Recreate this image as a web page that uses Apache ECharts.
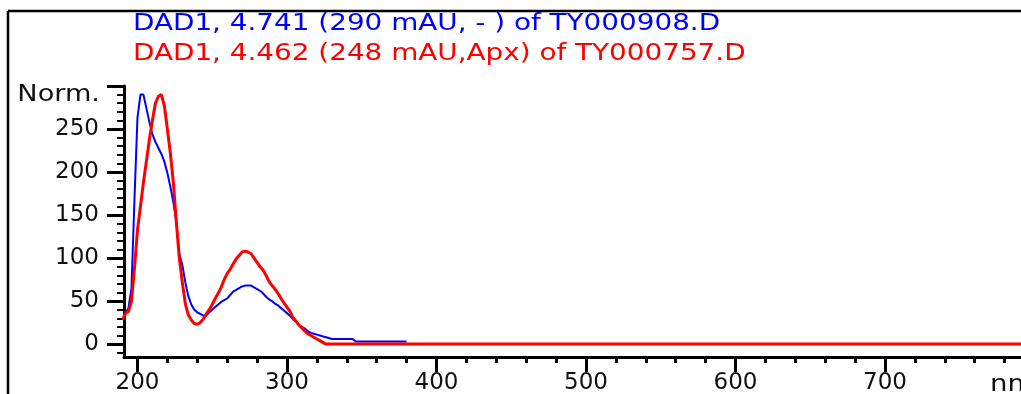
<!DOCTYPE html>
<html><head><meta charset="utf-8">
<script src="https://cdn.jsdelivr.net/npm/echarts@6/dist/echarts.min.js"></script>
<style>html,body{margin:0;padding:0;background:#fff}#c{width:1021px;height:394px}</style>
</head><body><div id="c"></div>
<script>
// ---- data ----
const titleBlue = 'DAD1, 4.741 (290 mAU, - ) of TY000908.D';
const titleRed = 'DAD1, 4.462 (248 mAU,Apx) of TY000757.D';
const yAxisName = 'Norm.';
const xAxisName = 'nm';

const xMajorTicks = [200, 300, 400, 500, 600, 700];
const xMinorTicks = [220, 240, 260, 280, 320, 340, 360, 380, 420, 440, 460, 480, 520, 540, 560, 580, 620, 640, 660, 680, 720, 740, 760, 780];
const yMajorTicks = [0, 50, 100, 150, 200, 250, 300];
const yLabelValues = [0, 50, 100, 150, 200, 250];
const yMinorTicks = [-10, 10, 20, 30, 40, 60, 70, 80, 90, 110, 120, 130, 140, 160, 170, 180, 190, 210, 220, 230, 240, 260, 270, 280, 290];

const blueNm = [190,192,194,196,198,200,202,204,206,208,210,212,214,216,218,220,222,224,226,228,230,232,234,236,238,240,242,244,246,248,250,252,254,256,258,260,262,264,266,268,270,272,274,276,278,280,282,284,286,288,290,292,294,296,298,300,302,304,306,308,310,312,314,316,318,320,322,324,326,328,330,344,346,380];
const blueNorm = [30,36,42,65,168,263,290,290,274,258,244,235,228,221,212,199,183,165,142,105,92,72,56,46,40,37,35,33,33,37,40,43,46,49,51,53,57,61,63,65,67,68,68,68,66,64,62,59,55,52,50,47,45,42,39,36,33,29,26,22,20,18,15,13,12,11,10,9,8,7,6,6,3,3];

const redNm = [190,192,194,196,198,200,202,204,206,208,210,212,214,216,218,220,222,224,226,228,230,232,234,236,238,240,242,244,246,248,250,252,254,256,258,260,262,264,266,268,270,272,274,276,278,280,282,284,286,288,290,292,294,296,298,300,302,304,306,308,310,312,314,316,318,320,322,324,326,400,500,600,700,800];
const redNorm = [28,36,38,50,88,132,160,188,213,238,260,280,288,290,277,250,222,188,142,100,72,47,34,28,24,23,25,29,35,40,46,53,59,66,75,82,87,93,99,103,107,108,107,105,100,95,90,86,80,73,68,64,59,53,48,43,38,31,27,22,19,15,12,10,8,6,4,2,0,0,0,0,0,0];

// ---- chart ----
const FONT = 'DejaVu Sans';
const pair = (xs, ys) => xs.map((x, i) => [x, ys[i]]);
const chart = echarts.init(document.getElementById('c'), null, {renderer: 'canvas'});
chart.setOption({
  animation: false,
  backgroundColor: '#ffffff',
  grid: {left: 124, right: 0, top: 86, bottom: 37, containLabel: false, outerBoundsMode: 'none'},
  xAxis: [{
    type: 'value', min: 191, max: 791, position: 'bottom',
    axisLine: {onZero: false, lineStyle: {color: '#000', width: 3}},
    axisTick: {customValues: xMajorTicks, length: 15, lineStyle: {color: '#000', width: 3}},
    axisLabel: {customValues: xMajorTicks, margin: 15, color: '#111', fontFamily: FONT, fontSize: 23},
    splitLine: {show: false}
  }, {
    type: 'value', min: 191, max: 791, position: 'bottom',
    axisLine: {show: false, onZero: false},
    axisTick: {customValues: xMinorTicks, length: 6, lineStyle: {color: '#000', width: 3}},
    axisLabel: {show: false}, splitLine: {show: false}
  }],
  yAxis: [{
    type: 'value', min: -15, max: 300, position: 'left',
    axisLine: {onZero: false, lineStyle: {color: '#000', width: 3}},
    axisTick: {customValues: yMajorTicks, length: 17, lineStyle: {color: '#000', width: 3}},
    axisLabel: {customValues: yLabelValues, margin: 25, color: '#111', fontFamily: FONT, fontSize: 23, padding: [0, 0, 7, 0]},
    splitLine: {show: false}
  }, {
    type: 'value', min: -15, max: 300, position: 'left',
    axisLine: {show: false, onZero: false},
    axisTick: {customValues: yMinorTicks, length: 7, lineStyle: {color: '#000', width: 2}},
    axisLabel: {show: false}, splitLine: {show: false}
  }],
  series: [{
    type: 'line', name: titleBlue, xAxisIndex: 0, yAxisIndex: 0,
    data: pair(blueNm, blueNorm), showSymbol: false, symbol: 'none',
    lineStyle: {color: '#0000ff', width: 2}, itemStyle: {color: '#0000ff'}, z: 2
  }, {
    type: 'line', name: titleRed, xAxisIndex: 0, yAxisIndex: 0,
    data: pair(redNm, redNorm), showSymbol: false, symbol: 'none',
    lineStyle: {color: '#ff0000', width: 3}, itemStyle: {color: '#ff0000'}, z: 3
  }],
  graphic: [
    {type: 'line', shape: {x1: 8, y1: 11, x2: 1021, y2: 11}, style: {stroke: '#000', lineWidth: 2.5}},
    {type: 'line', shape: {x1: 8, y1: 11, x2: 8, y2: 394}, style: {stroke: '#000', lineWidth: 2.5}},
    {type: 'text', x: 133, y: 24, scaleX: 1.21, style: {text: titleBlue, fill: '#0000ff', fontFamily: FONT, fontSize: 23, align: 'left', verticalAlign: 'middle'}},
    {type: 'text', x: 133, y: 54, scaleX: 1.21, style: {text: titleRed, fill: '#ff0000', fontFamily: FONT, fontSize: 23, align: 'left', verticalAlign: 'middle'}},
    {type: 'text', x: 100, y: 95, scaleX: 1.18, style: {text: yAxisName, fill: '#111', fontFamily: FONT, fontSize: 23, align: 'right', verticalAlign: 'middle'}},
    {type: 'text', x: 990, y: 385, scaleX: 1.2, style: {text: xAxisName, fill: '#111', fontFamily: FONT, fontSize: 23, align: 'left', verticalAlign: 'middle'}}
  ]
});
</script>
</body></html>
